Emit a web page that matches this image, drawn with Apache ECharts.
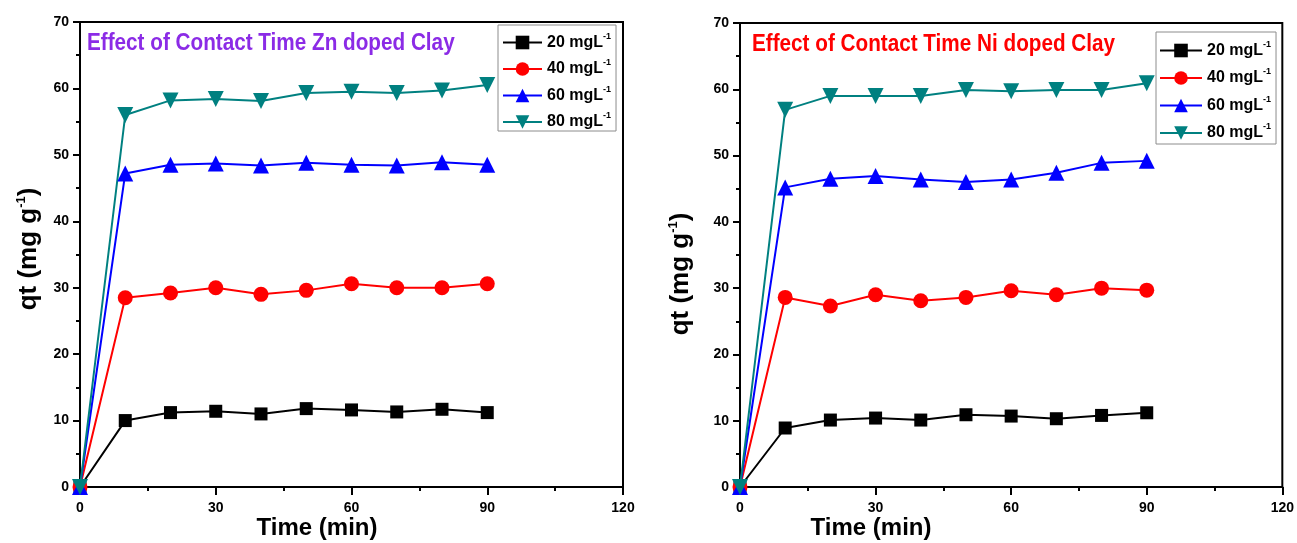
<!DOCTYPE html>
<html>
<head>
<meta charset="utf-8">
<script src="https://cdn.jsdelivr.net/npm/echarts@6/dist/echarts.min.js"></script>
<style>
  html, body { margin: 0; padding: 0; background: #fff; }
  #chart { width: 1297px; height: 543px; }
</style>
</head>
<body>
<div id="chart"></div>
<script>
// Contact time (min)
const time = [0, 10, 20, 30, 40, 50, 60, 70, 80, 90];
// Initial concentrations (mg/L)
const concentrations = [20, 40, 60, 80];

// Adsorption capacity qt (mg/g) — Zn doped clay
const znQ20 = [0, 10.0, 11.2, 11.4, 11.0, 11.8, 11.6, 11.3, 11.7, 11.2];
const znQ40 = [0, 28.5, 29.2, 30.0, 29.0, 29.6, 30.6, 30.0, 30.0, 30.6];
const znQ60 = [0, 47.2, 48.5, 48.7, 48.4, 48.8, 48.5, 48.4, 48.9, 48.5];
const znQ80 = [0, 56.0, 58.2, 58.4, 58.1, 59.3, 59.5, 59.3, 59.7, 60.5];

// Adsorption capacity qt (mg/g) — Ni doped clay
const niQ20 = [0, 8.9, 10.1, 10.4, 10.1, 10.9, 10.7, 10.3, 10.8, 11.2];
const niQ40 = [0, 28.6, 27.3, 29.0, 28.1, 28.6, 29.6, 29.0, 30.0, 29.7];
const niQ60 = [0, 45.2, 46.5, 46.9, 46.4, 46.0, 46.4, 47.4, 48.9, 49.2];
const niQ80 = [0, 56.9, 59.0, 59.0, 59.0, 59.9, 59.7, 59.9, 59.9, 60.9];

const xTicks = [0, 30, 60, 90, 120];
const yTicks = [0, 10, 20, 30, 40, 50, 60, 70];

const panelTitles = ['Effect of Contact Time Zn doped Clay', 'Effect of Contact Time Ni doped Clay'];
const panelTitleColors = ['#8B2BE6', '#FF0000'];

const seriesColors = ['#000000', '#FF0000', '#0000FF', '#008080'];
const downTriangle = 'path://M0,0 L10,0 L5,9 Z';
const seriesSymbols = ['rect', 'circle', 'triangle', downTriangle];
const seriesSymbolSizes = [13, 15, 16, 16];

const narrowFont = '"Liberation Sans Narrow", "Arial Narrow", "Liberation Sans", Arial, sans-serif';
const boldFont = '"Liberation Sans", Arial, sans-serif';

const chart = echarts.init(document.getElementById('chart'), null, { renderer: 'canvas' });

const grids = [
  { left: 80, right: 674, top: 22, bottom: 56 },
  { left: 740, right: 13, top: 23, bottom: 56 }
];

function axisPair(gi) {
  const x = {
    type: 'value', gridIndex: gi, min: 0, max: 120, interval: 30,
    axisLine: { show: true, onZero: false, lineStyle: { color: '#000', width: 2 } },
    axisTick: { show: true, length: 8, lineStyle: { color: '#000', width: 2 } },
    minorTick: { show: true, splitNumber: 2, length: 4, lineStyle: { color: '#000', width: 2 } },
    splitLine: { show: false },
    axisLabel: {
      color: '#000', fontSize: 14, fontWeight: 'bold', fontFamily: narrowFont, margin: 14,
      formatter: v => (xTicks.indexOf(v) >= 0 ? String(v) : '')
    }
  };
  const y = {
    type: 'value', gridIndex: gi, min: 0, max: 70, interval: 10,
    axisLine: { show: true, onZero: false, lineStyle: { color: '#000', width: 2 } },
    axisTick: { show: true, length: 7, lineStyle: { color: '#000', width: 2 } },
    minorTick: { show: true, splitNumber: 2, length: 4, lineStyle: { color: '#000', width: 2 } },
    splitLine: { show: false },
    axisLabel: {
      color: '#000', fontSize: 14, fontWeight: 'bold', fontFamily: narrowFont, margin: 11,
      formatter: v => (yTicks.indexOf(v) >= 0 ? String(v) : '')
    }
  };
  return [x, y];
}

const [x0, y0] = axisPair(0);
const [x1, y1] = axisPair(1);

function buildSeries(gi, sets) {
  return sets.map((vals, i) => ({
    name: String(concentrations[i]),
    type: 'line',
    xAxisIndex: gi,
    yAxisIndex: gi,
    data: time.map((t, k) => [t, vals[k]]),
    symbol: seriesSymbols[i],
    symbolSize: seriesSymbolSizes[i],
    showAllSymbol: true,
    clip: false,
    itemStyle: { color: seriesColors[i] },
    lineStyle: { color: seriesColors[i], width: 2 },
    emphasis: { disabled: true },
    animation: false
  }));
}

const legendRich = {
  a: { fontSize: 16, fontWeight: 'bold', fontFamily: boldFont, color: '#000' },
  s: { fontSize: 9, fontWeight: 'bold', fontFamily: boldFont, color: '#000', padding: [0, 0, 12, 0] }
};

function legendAt(left, top, itemWidth, itemGap, padding) {
  return {
    orient: 'vertical', left: left, top: top,
    data: concentrations.map(String),
    itemWidth: itemWidth, itemHeight: 17, itemGap: itemGap,
    padding: padding,
    borderColor: '#8c8c8c', borderWidth: 1,
    backgroundColor: '#fff',
    selectedMode: false,
    formatter: n => '{a|' + n + ' mgL}{s|-1}',
    textStyle: { rich: legendRich }
  };
}

const titleRich = {
  a: { fontSize: 26, fontWeight: 'bold', fontFamily: boldFont, color: '#000' },
  s: { fontSize: 13, fontWeight: 'bold', fontFamily: boldFont, color: '#000', padding: [0, 0, 16, 0] }
};

function yTitle(x, y) {
  return {
    type: 'text', x: x, y: y, rotation: Math.PI / 2, silent: true,
    style: {
      text: '{a|qt (mg g}{s|-1}{a|)}',
      rich: titleRich,
      align: 'center', verticalAlign: 'middle'
    }
  };
}

function xTitle(x, y) {
  return {
    type: 'text', x: x, y: y, silent: true,
    style: {
      text: 'Time (min)', fill: '#000',
      font: 'bold 24px ' + boldFont,
      align: 'center', verticalAlign: 'middle'
    }
  };
}

function panelTitle(i, x, y) {
  return {
    type: 'text', x: x, y: y, scaleX: 0.9, silent: true,
    style: {
      text: panelTitles[i], fill: panelTitleColors[i],
      font: 'bold 23px ' + boldFont,
      align: 'left', verticalAlign: 'middle'
    }
  };
}

chart.setOption({
  animation: false,
  backgroundColor: '#fff',
  grid: grids.map(g => Object.assign({ show: true, borderColor: '#000', borderWidth: 2, backgroundColor: 'transparent' }, g)),
  xAxis: [x0, x1],
  yAxis: [y0, y1],
  legend: [
    legendAt(498, 25, 39, 8, [7, 5, 1, 4]),
    legendAt(1156, 32, 42, 9, [8, 5, 3, 3])
  ],
  series: buildSeries(0, [znQ20, znQ40, znQ60, znQ80])
    .concat(buildSeries(1, [niQ20, niQ40, niQ60, niQ80])),
  graphic: [
    panelTitle(0, 87, 44),
    panelTitle(1, 752, 45),
    yTitle(29, 249),
    yTitle(681, 274),
    xTitle(317, 528),
    xTitle(871, 528)
  ]
});
</script>
</body>
</html>
